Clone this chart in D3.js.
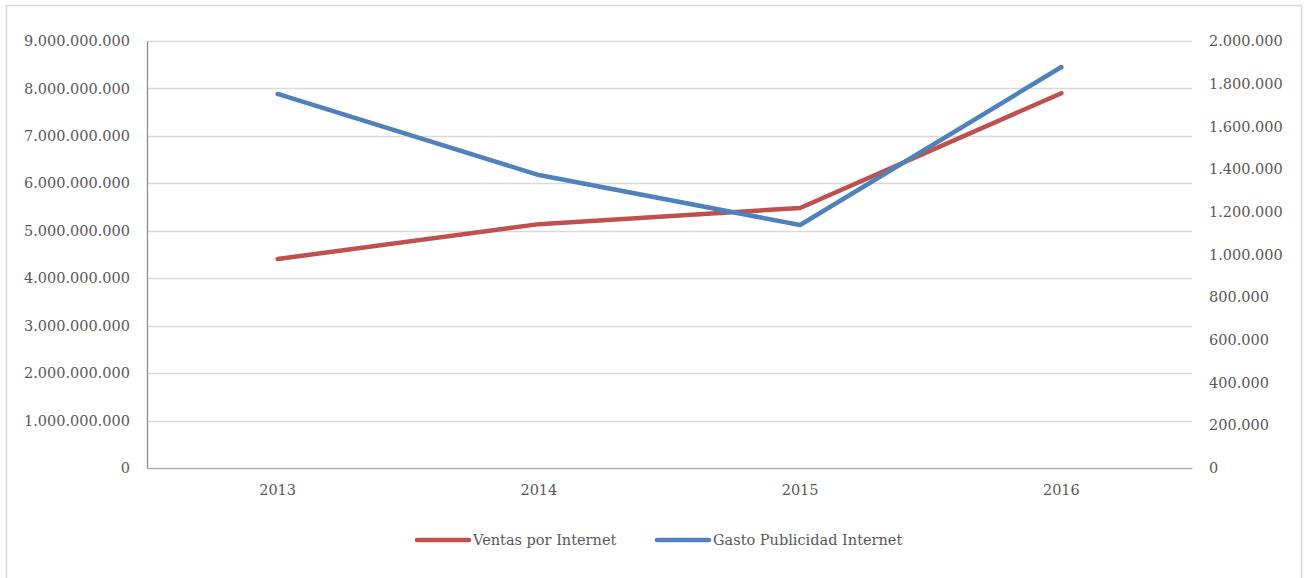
<!DOCTYPE html>
<html><head><meta charset="utf-8">
<script src="https://cdn.jsdelivr.net/npm/d3@7"></script>
<style>body{margin:0;background:#fff}svg{display:block}</style>
</head><body>
<svg id="c" width="1306" height="578"></svg>
<script>
const categories = ["2013","2014","2015","2016"];
const ventas = [4405000000, 5140000000, 5480000000, 7900000000];
const gasto = [1752000, 1372000, 1138000, 1878000];
const leftTicks = [0,1e9,2e9,3e9,4e9,5e9,6e9,7e9,8e9,9e9];
const rightTicks = [0,200000,400000,600000,800000,1000000,1200000,1400000,1600000,1800000,2000000];
const seriesNames = ["Ventas por Internet","Gasto Publicidad Internet"];

const svg = d3.select("#c");
const font = "DejaVu Serif";
const txt = "#595959";
const m = {l:147, r:1192, t:41, b:468};
svg.append("rect").attr("x",6.5).attr("y",5.5).attr("width",1295).attr("height",600)
  .attr("fill","#fff").attr("stroke","#d9d9d9").attr("stroke-width",1.5);

const x = d3.scaleBand().domain(categories).range([m.l,m.r]);
const yL = d3.scaleLinear().domain([0,9e9]).range([m.b,m.t]);
const yR = d3.scaleLinear().domain([0,2e6]).range([m.b,m.t]);
const fmt = v => d3.format(",")(v).replace(/,/g,".");

// gridlines
svg.append("g").selectAll("line").data(leftTicks.filter(d=>d>0)).join("line")
  .attr("x1",m.l).attr("x2",m.r).attr("y1",d=>Math.round(yL(d))+0.5).attr("y2",d=>Math.round(yL(d))+0.5)
  .attr("stroke","#d9d9d9").attr("stroke-width",1.3);

// left axis
const gL = svg.append("g").attr("transform",`translate(${m.l},0)`)
  .call(d3.axisLeft(yL).tickValues(leftTicks).tickFormat(fmt).tickSize(0).tickPadding(17));
gL.select(".domain").attr("stroke","#8c8c8c").attr("stroke-width",1.3);
gL.selectAll("text").attr("font-family",font).attr("font-size","14.5px").attr("fill",txt);

// right axis
const gR = svg.append("g").attr("transform",`translate(${m.r},0)`)
  .call(d3.axisRight(yR).tickValues(rightTicks).tickFormat(fmt).tickSize(0).tickPadding(17));
gR.select(".domain").remove();
gR.selectAll("text").attr("font-family",font).attr("font-size","14.5px").attr("fill",txt);

// bottom axis
const gB = svg.append("g").attr("transform",`translate(0,${m.b})`)
  .call(d3.axisBottom(x).tickSize(0).tickPadding(17));
gB.select(".domain").attr("stroke","#b0b0b0").attr("stroke-width",1.3);
gB.selectAll("text").attr("font-family",font).attr("font-size","14.5px").attr("fill",txt);

const cx = d => x(d) + x.bandwidth()/2;
const colors = ["#c0504d","#4f81bd"];
svg.append("path").datum(ventas)
  .attr("d", d3.line().x((d,i)=>cx(categories[i])).y(d=>yL(d)))
  .attr("fill","none").attr("stroke",colors[0]).attr("stroke-width",4.5).attr("stroke-linecap","round").attr("stroke-linejoin","round");
svg.append("path").datum(gasto)
  .attr("d", d3.line().x((d,i)=>cx(categories[i])).y(d=>yR(d)))
  .attr("fill","none").attr("stroke",colors[1]).attr("stroke-width",4.5).attr("stroke-linecap","round").attr("stroke-linejoin","round");

// legend
const legX = [417, 657];
seriesNames.forEach((n,i)=>{
  const g = svg.append("g").attr("transform",`translate(${legX[i]},540)`);
  g.append("line").attr("x1",0).attr("x2",52).attr("stroke",colors[i]).attr("stroke-width",4.5).attr("stroke-linecap","round");
  g.append("text").attr("x",56).attr("y",0).attr("dy","0.35em").attr("font-family",font)
    .attr("font-size","14.5px").attr("fill",txt).text(n);
});
</script>
</body></html>
